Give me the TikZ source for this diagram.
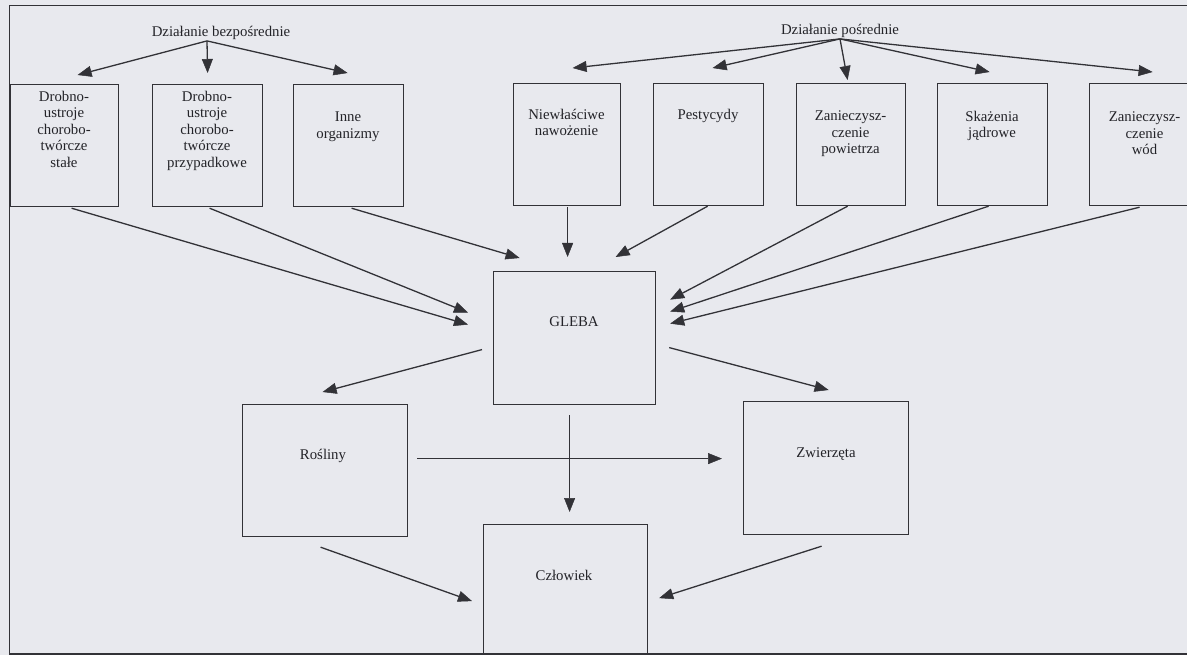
\documentclass[tikz,border=0pt]{standalone}
\usepackage{fontspec}
\setmainfont{Liberation Serif}
\usetikzlibrary{arrows.meta}
\definecolor{bg}{RGB}{232,233,238}
\definecolor{ink}{RGB}{50,50,55}
\definecolor{txtc}{RGB}{35,35,40}
\begin{document}
\begin{tikzpicture}[x=1pt,y=-1pt,
  box/.style={draw=ink, line width=1.2pt, inner sep=0pt, anchor=north west, minimum width=#1, minimum height=122pt},
  bigbox/.style={draw=ink, line width=1.2pt, inner sep=0pt, anchor=north west, minimum width=164pt, minimum height=133pt},
  lbl/.style={text=txtc, font=\fontsize{14.8pt}{16.5pt}\selectfont, align=center, inner sep=0pt},
  arr/.style={draw=ink, line width=1.3pt, -{Triangle[length=14pt,width=11pt,fill=ink,line width=0.5pt]}},
  ln/.style={draw=ink, line width=1.3pt}]
\useasboundingbox (0,0) rectangle (1187,655);
\fill[bg] (0,0) rectangle (1187,655);
\draw[ink, line width=1.6pt] (1205,5.5) -- (9.5,5.5) -- (9.5,654) -- (1205,654);

% headers
\node[lbl] (hdr1) at (221,33) {Działanie bezpośrednie};
\node[lbl] (hdr2) at (840,31) {Działanie pośrednie};

% top boxes
\node[box=108pt] (b1) at (10,84) {};
\node[box=110pt] (b2) at (152,84) {};
\node[box=110pt] (b3) at (293,84) {};
\node[box=107pt] (n1) at (513,83) {};
\node[box=110pt] (n2) at (653,83) {};
\node[box=109pt] (n3) at (796,83) {};
\node[box=110pt] (n4) at (937,83) {};
\node[box=111pt] (n5) at (1089,83) {};

\node[lbl, anchor=north] (tb1) at (64,91) {Drobno-\\ustroje\\chorobo-\\twórcze\\stałe};
\node[lbl, anchor=north] (tb2) at (207,91) {Drobno-\\ustroje\\chorobo-\\twórcze\\przypadkowe};
\node[lbl, anchor=north] (tb3) at (348,112) {Inne\\organizmy};
\node[lbl, anchor=north] (tn1) at (566.5,109) {Niewłaściwe\\nawożenie};
\node[lbl, anchor=north] (tn2) at (708,109) {Pestycydy};
\node[lbl, anchor=north] (tn3) at (850.5,111) {Zanieczysz-\\czenie\\powietrza};
\node[lbl, anchor=north] (tn4) at (992,111) {Skażenia\\jądrowe};
\node[lbl, anchor=north] (tn5) at (1144.5,112) {Zanieczysz-\\czenie\\wód};

% middle and bottom boxes
\node[bigbox, minimum width=162pt] (gleba) at (493,271) {};
\node[bigbox, minimum width=165pt, minimum height=132pt] (ros) at (242,404) {};
\node[bigbox, minimum width=165pt] (zw) at (743,401) {};
\node[bigbox, minimum height=131pt] (czl) at (483,524) {};

\node[lbl] (tg) at (574,322) {GLEBA};
\node[lbl] (tr) at (323,456) {Rośliny};
\node[lbl] (tz) at (826,454) {Zwierzęta};
\node[lbl] (tc) at (564,575) {Człowiek};

% header arrows
\draw[arr] ([xshift=-14pt,yshift=-1pt]hdr1.south) -- ([shift={(13,-9)}]b1.north);
\draw[arr] ([xshift=-14pt,yshift=-1pt]hdr1.south) -- ([shift={(0,-11)}]b2.north);
\draw[arr] ([xshift=-14pt,yshift=-1pt]hdr1.south) -- ([shift={(-1,-11)}]b3.north);
\draw[arr] ([yshift=-1pt]hdr2.south) -- ([shift={(5.5,-15)}]n1.north);
\draw[arr] ([yshift=-1pt]hdr2.south) -- ([shift={(4,-15)}]n2.north);
\draw[arr] ([yshift=-1pt]hdr2.south) -- ([shift={(-3.5,-3)}]n3.north);
\draw[arr] ([yshift=-1pt]hdr2.south) -- ([shift={(-3,-11)}]n4.north);
\draw[arr] ([yshift=-1pt]hdr2.south) -- ([shift={(7.5,-11)}]n5.north);

% into GLEBA
\draw[arr] ([shift={(7,1)}]b1.south) -- ([shift={(-25,-13.5)}]gleba.west);
\draw[arr] ([shift={(2,1)}]b2.south) -- ([shift={(-25,-25.5)}]gleba.west);
\draw[arr] ([shift={(3,1)}]b3.south) -- ([shift={(-55,-13)}]gleba.north);
\draw[arr] ([shift={(0.5,1)}]n1.south) -- ([shift={(-7,-14)}]gleba.north);
\draw[arr] ([shift={(-1,0)}]n2.south) -- ([shift={(41,-14)}]gleba.north);
\draw[arr] ([shift={(-3.5,0)}]n3.south) -- ([shift={(14,-38.5)}]gleba.east);
\draw[arr] ([shift={(-4,0)}]n4.south) -- ([shift={(14,-26.5)}]gleba.east);
\draw[arr] ([shift={(-5.5,1)}]n5.south) -- ([shift={(14,-14.5)}]gleba.east);

% out of GLEBA
\draw[arr] ([shift={(-11,11.5)}]gleba.west) -- ([shift={(-2.5,-12)}]ros.north);
\draw[arr] ([shift={(13,9.5)}]gleba.east) -- ([shift={(2.5,-11)}]zw.north);
\draw[arr] ([shift={(-5,10)}]gleba.south) -- ([shift={(4,-12)}]czl.north);

% bottom
\draw[arr] ([shift={(9,-12)}]ros.east) -- ([shift={(-21,-9.5)}]zw.west);
\draw[arr] ([shift={(-4.5,10)}]ros.south) -- ([shift={(-11,11)}]czl.west);
\draw[arr] ([shift={(-4.5,11)}]zw.south) -- ([shift={(11,8)}]czl.east);
\end{tikzpicture}
\end{document}
